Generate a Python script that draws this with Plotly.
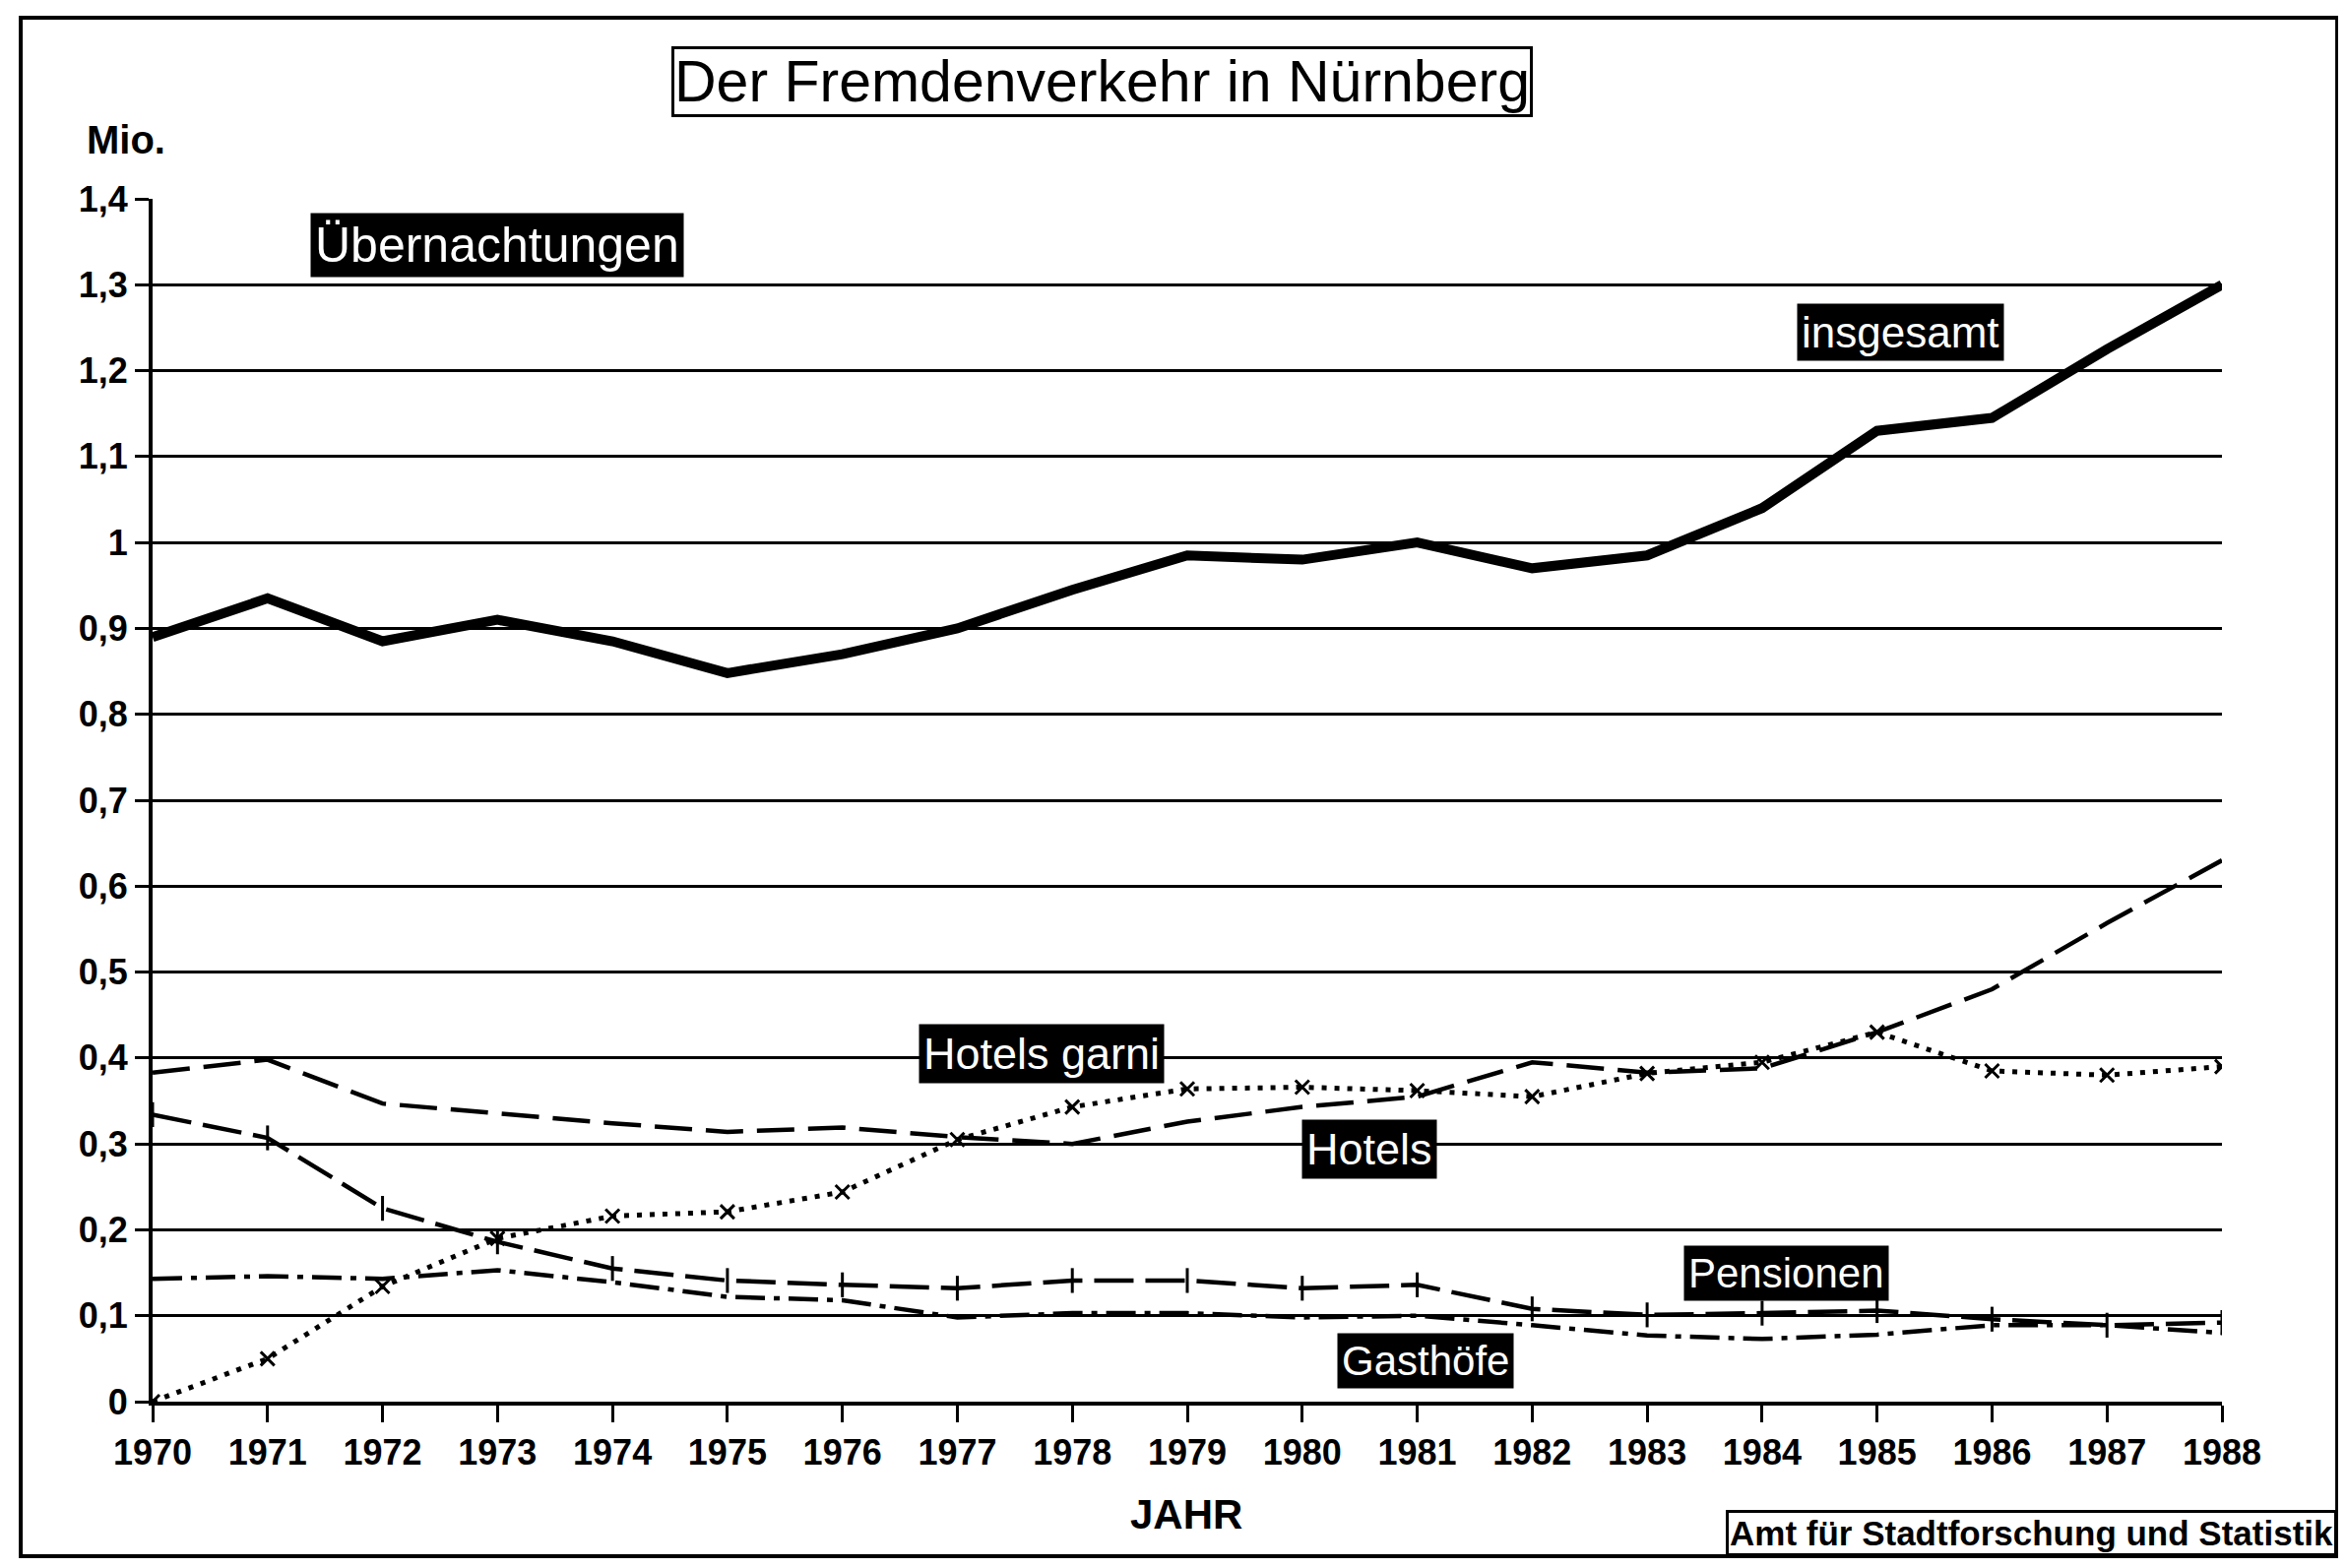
import plotly.graph_objects as go

# -----------------------------------------------------------------------
#   Der Fremdenverkehr in Nürnberg - Übernachtungen (Mio.)
# -----------------------------------------------------------------------

years = list(range(1970, 1989))
insgesamt = [0.89, 0.935, 0.885, 0.91, 0.885, 0.848, 0.87, 0.90, 0.945, 0.985,
             0.98, 1.0, 0.97, 0.985, 1.04, 1.13, 1.145, 1.225, 1.30]
hotels = [0.383, 0.398, 0.347, 0.335, 0.324, 0.314, 0.319, 0.308, 0.300, 0.326,
          0.343, 0.355, 0.395, 0.383, 0.388, 0.43, 0.48, 0.557, 0.63]
hotels_garni = [0.0, 0.05, 0.134, 0.19, 0.216, 0.221, 0.244, 0.305, 0.343, 0.364,
                0.366, 0.362, 0.355, 0.382, 0.395, 0.43, 0.385, 0.38, 0.39]
pensionen = [0.334, 0.307, 0.225, 0.186, 0.155, 0.141, 0.136, 0.132, 0.141, 0.141,
             0.132, 0.136, 0.108, 0.101, 0.103, 0.106, 0.096, 0.089, 0.092]
gasthoefe = [0.143, 0.146, 0.143, 0.153, 0.139, 0.122, 0.118, 0.098, 0.103, 0.103,
             0.098, 0.1, 0.089, 0.077, 0.073, 0.078, 0.089, 0.089, 0.08]

y_ticks = [round(i * 0.1, 1) for i in range(15)]

# label text, anchor position (year, value), font size
labels = [
    ("Übernachtungen", 1973.0, 1.346, 50),
    ("insgesamt", 1985.2, 1.245, 44),
    ("Hotels garni", 1977.73, 0.405, 45),
    ("Hotels", 1980.58, 0.294, 45),
    ("Pensionen", 1984.21, 0.150, 42),
    ("Gasthöfe", 1981.07, 0.047, 42),
]

FONT = "Liberation Sans"
# page body has an 8px margin, so the figure is a bit smaller than the window
W, H = 2367, 1577
L, T = 147, 194
PW, PH = 2102, 1222
R, B = W - L - PW, H - T - PH

fig = go.Figure()

fig.add_trace(go.Scatter(x=years, y=hotels, mode='lines', name='Hotels',
                         line=dict(color='black', width=4.5, dash='38px,14px')))
fig.add_trace(go.Scatter(x=years, y=hotels_garni, mode='lines+markers', name='Hotels garni',
                         line=dict(color='black', width=5, dash='5px,8px'),
                         marker=dict(symbol='x-thin-open', size=14,
                                     line=dict(color='black', width=3))))
fig.add_trace(go.Scatter(x=years, y=pensionen, mode='lines+markers', name='Pensionen',
                         line=dict(color='black', width=4.5, dash='40px,12px'),
                         marker=dict(symbol='line-ns-open', size=18,
                                     line=dict(color='black', width=3))))
fig.add_trace(go.Scatter(x=years, y=gasthoefe, mode='lines', name='Gasthöfe',
                         line=dict(color='black', width=4.5, dash='30px,9px,6px,9px')))
fig.add_trace(go.Scatter(x=years, y=insgesamt, mode='lines', name='insgesamt',
                         line=dict(color='black', width=10)))

fig.update_layout(
    width=W, height=H,
    margin=dict(l=L, r=R, t=T, b=B),
    paper_bgcolor='white', plot_bgcolor='white',
    showlegend=False,
    separators=',.',
    font=dict(family=FONT, color='black'),
    xaxis=dict(range=[1970, 1988], tickvals=years, ticktext=[str(y) for y in years],
               showgrid=False, zeroline=False,
               showline=True, linecolor='black', linewidth=4,
               ticks='outside', ticklen=17, tickwidth=3, tickcolor='black',
               tickfont=dict(family=FONT, size=36, weight='bold'),
               fixedrange=True),
    xaxis2=dict(range=[1970, 1988], tickvals=years, overlaying='x', anchor='y',
                side='bottom', showgrid=False, zeroline=False, showline=False,
                ticks='inside', ticklen=17, tickwidth=3, tickcolor='black',
                showticklabels=False),
    yaxis=dict(range=[0, 1.4], tickvals=y_ticks, showgrid=True,
               gridcolor='black', gridwidth=3, zeroline=False,
               showline=True, linecolor='black', linewidth=4,
               ticks='outside', ticklen=14, tickwidth=3, tickcolor='black',
               tickfont=dict(family=FONT, size=36, weight='bold'),
               fixedrange=True),
)

# black boxed labels for the series
for text, lx, ly, fs in labels:
    fig.add_annotation(x=lx, y=ly, xref='x', yref='y', text=text, showarrow=False,
                       xanchor='center', yanchor='middle',
                       font=dict(family=FONT, size=fs, color='white'),
                       bgcolor='black', borderpad=4)

# title in a frame
fig.add_annotation(x=0.459, y=1.0974, xref='paper', yref='paper',
                   xanchor='center', yanchor='middle',
                   text='Der Fremdenverkehr in Nürnberg', showarrow=False,
                   font=dict(family=FONT, size=59, color='black'),
                   bordercolor='black', borderwidth=3, borderpad=0, bgcolor='white')

fig.add_annotation(x=-0.0128, y=1.049, xref='paper', yref='paper', text='Mio.',
                   xanchor='center', yanchor='middle',
                   showarrow=False, font=dict(family=FONT, size=40, weight='bold'))

fig.add_annotation(x=0.4995, y=-0.0933, xref='paper', yref='paper', text='JAHR',
                   xanchor='center', yanchor='middle',
                   showarrow=False, font=dict(family=FONT, size=42, weight='bold'))

# source box bottom right
fig.add_annotation(x=1.0557, y=-0.1285, xref='paper', yref='paper',
                   xanchor='right', yanchor='bottom',
                   text='<b>Amt für Stadtforschung und Statistik</b>', showarrow=False,
                   font=dict(family=FONT, size=35, color='black'),
                   bordercolor='black', borderwidth=3, borderpad=1, bgcolor='white')

# outer frame of the sheet
fig.add_shape(type='rect', xref='paper', yref='paper',
              x0=-0.0637, x1=1.0557, y0=-0.1285, y1=1.1506,
              line=dict(color='black', width=4), layer='below')

fig.write_html("out.html")
